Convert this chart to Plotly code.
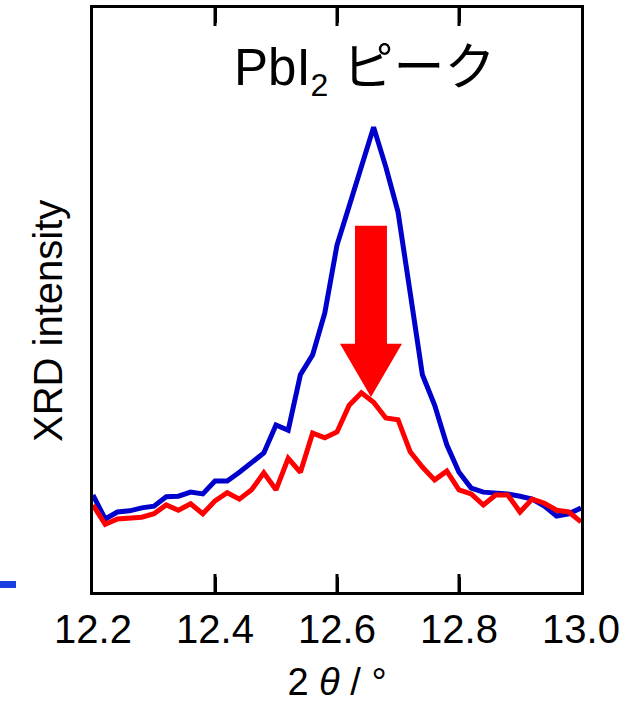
import plotly.graph_objects as go

two_theta = [12.20, 12.22, 12.24, 12.26, 12.28, 12.30, 12.32, 12.34, 12.36, 12.38,
             12.40, 12.42, 12.44, 12.46, 12.48, 12.50, 12.52, 12.54, 12.56, 12.58,
             12.60, 12.62, 12.64, 12.66, 12.68, 12.70, 12.72, 12.74, 12.76, 12.78,
             12.80, 12.82, 12.84, 12.86, 12.88, 12.90, 12.92, 12.94, 12.96, 12.98, 13.00]

blue_intensity = [16.6, 12.5, 13.7, 13.9, 14.4, 14.7, 16.3, 16.4, 17.1, 16.8,
                  19.0, 19.0, 20.5, 22.1, 23.8, 28.6, 27.7, 37.2, 40.6, 47.8,
                  59.4, 66.1, 72.8, 79.6, 72.8, 65.1, 51.2, 37.2, 32.0, 25.2,
                  20.5, 17.8, 17.1, 17.0, 16.8, 16.4, 15.9, 14.7, 13.0, 13.4, 14.4]

red_intensity = [14.9, 11.6, 12.5, 12.7, 12.8, 13.4, 14.9, 14.0, 15.1, 13.4,
                 15.6, 17.0, 15.9, 17.5, 20.4, 17.5, 22.9, 20.5, 27.2, 26.4,
                 27.4, 32.0, 34.1, 32.5, 29.8, 29.5, 24.0, 21.4, 19.2, 20.7,
                 17.5, 16.8, 14.9, 16.6, 16.6, 13.7, 15.9, 15.2, 14.0, 13.7, 12.0]

x_ticks = [12.2, 12.4, 12.6, 12.8, 13.0]
x_tick_labels = ["12.2", "12.4", "12.6", "12.8", "13.0"]

X_RANGE = [12.2, 13.0]
Y_RANGE = [0, 100]

FONT = "Liberation Sans, Arial, Noto Sans CJK JP, sans-serif"

FIG_W, FIG_H = 627, 703
M_L, M_R, M_T, M_B = 93, 46, 8, 111
PLOT_H = FIG_H - M_T - M_B
TICK_LEN = 15

fig = go.Figure()
fig.add_trace(go.Scatter(x=two_theta, y=blue_intensity, mode="lines",
                         line=dict(color="#0000CC", width=5), showlegend=False))
fig.add_trace(go.Scatter(x=two_theta, y=red_intensity, mode="lines",
                         line=dict(color="#FF0000", width=5), showlegend=False))

# inward tick marks on bottom and top frame
half = (TICK_LEN / 2) * (Y_RANGE[1] - Y_RANGE[0]) / PLOT_H
inner_ticks = x_ticks[1:-1]
tick_marker = dict(symbol="line-ns", size=TICK_LEN, color="black",
                   line=dict(width=3, color="black"))
fig.add_trace(go.Scatter(x=inner_ticks, y=[Y_RANGE[0] + half] * len(inner_ticks),
                         mode="markers", cliponaxis=False, marker=tick_marker,
                         hoverinfo="skip", showlegend=False))
fig.add_trace(go.Scatter(x=inner_ticks, y=[Y_RANGE[1] - half] * len(inner_ticks),
                         mode="markers", cliponaxis=False, marker=tick_marker,
                         hoverinfo="skip", showlegend=False))

# down arrow (annotation graphic)
cx = 12.6557
sw, hw = 0.0262, 0.0508
y_top, y_base, y_tip = 62.7, 42.5, 33.4
path = (f"M {cx-sw} {y_top} L {cx+sw} {y_top} L {cx+sw} {y_base} L {cx+hw} {y_base} "
        f"L {cx} {y_tip} L {cx-hw} {y_base} L {cx-sw} {y_base} Z")
fig.add_shape(type="path", path=path, xref="x", yref="y",
              fillcolor="#FF0000", line=dict(width=0))

# small blue dash at bottom-left (cropped legend remnant)
fig.add_shape(type="rect", xref="paper", yref="paper",
              x0=-0.1906, x1=-0.1578, y0=0.0069, y1=0.0188,
              fillcolor="#1A3FE0", line=dict(width=0))

fig.add_annotation(text="PbI<sub><span style='font-size:32px'>2</span></sub> ピーク",
                   x=0.557, y=0.892,
                   xref="paper", yref="paper", showarrow=False,
                   xanchor="center", yanchor="middle",
                   font=dict(family=FONT, size=51, color="black"))

# y-axis title
fig.add_annotation(text="XRD intensity", x=-0.0922, y=0.464,
                   xref="paper", yref="paper", showarrow=False, textangle=-90,
                   xanchor="center", yanchor="middle",
                   font=dict(family=FONT, size=40, color="black"))

fig.update_xaxes(range=X_RANGE, tickmode="array", tickvals=x_ticks, ticktext=x_tick_labels,
                 ticks="inside", ticklen=TICK_LEN, tickwidth=3, tickcolor="#000000",
                 showline=True, linewidth=3, linecolor="black", mirror="allticks",
                 showgrid=False, zeroline=False, layer="above traces",
                 tickfont=dict(family=FONT, size=40, color="black"),
                 title=dict(text="2 <i>θ</i> / °", standoff=26,
                            font=dict(family=FONT, size=38, color="black")))
fig.update_yaxes(range=Y_RANGE, showticklabels=False, ticks="",
                 showline=True, linewidth=3, linecolor="black", mirror=True,
                 showgrid=False, zeroline=False)

fig.update_layout(template="none", width=FIG_W, height=FIG_H,
                  plot_bgcolor="white", paper_bgcolor="white",
                  margin=dict(l=M_L, r=M_R, t=M_T, b=M_B, autoexpand=False))

fig.write_html("out.html", config={"displayModeBar": False},
               post_script="document.body.style.margin='0';document.body.style.overflow='hidden';")
